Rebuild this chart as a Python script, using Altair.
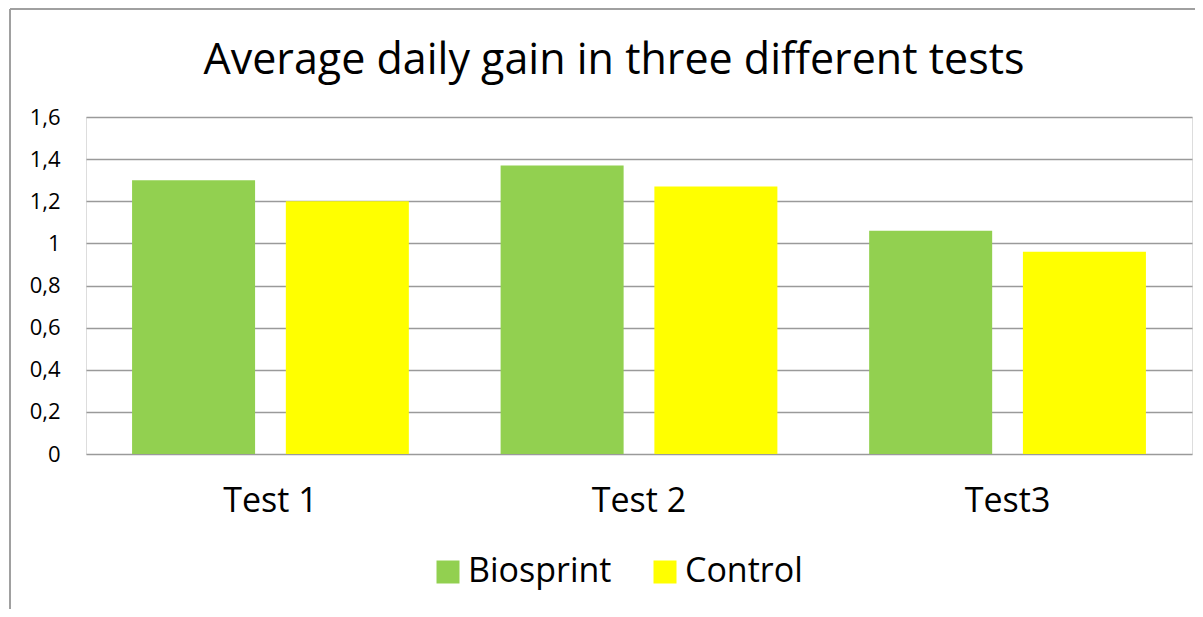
import altair as alt
import pandas as pd

tests = ["Test 1", "Test 2", "Test3"]
series = ["Biosprint", "Control"]
biosprint = [1.30, 1.37, 1.06]
control = [1.20, 1.27, 0.96]
colors = ["#92D050", "#FFFF00"]

rows = []
for t, b, c in zip(tests, biosprint, control):
    rows.append({"test": t, "series": "Biosprint", "value": b})
    rows.append({"test": t, "series": "Control", "value": c})
df = pd.DataFrame(rows)

FONT = "Open Sans"

bars = alt.Chart(df).mark_bar().encode(
    x=alt.X("test:N", sort=tests, title=None,
            scale=alt.Scale(paddingInner=0.249, paddingOuter=0.125),
            axis=alt.Axis(labelAngle=0, labelFontSize=34, labelPadding=30,
                          labelColor="#000000", labelFont=FONT,
                          domain=False, ticks=False)),
    xOffset=alt.XOffset("series:N", sort=series,
                        scale=alt.Scale(paddingInner=0.2, paddingOuter=0)),
    y=alt.Y("value:Q", title=None,
            scale=alt.Scale(domain=[0, 1.6], nice=False),
            axis=alt.Axis(values=[0, 0.2, 0.4, 0.6, 0.8, 1.0, 1.2, 1.4, 1.6],
                          labelExpr="replace(toString(round(datum.value*10)/10), '.', ',')",
                          labelFontSize=22, labelPadding=26, labelColor="#000000",
                          labelFont=FONT, domain=False, ticks=False,
                          grid=True, gridColor="#9a9a9a", gridWidth=1.5)),
    color=alt.Color("series:N", sort=series,
                    scale=alt.Scale(domain=series, range=colors),
                    legend=alt.Legend(title=None, orient="none", direction="horizontal",
                                      legendX=345, legendY=438,
                                      symbolType="square", symbolSize=529,
                                      symbolStrokeWidth=0, symbolOpacity=1,
                                      labelFontSize=34, labelFont=FONT,
                                      labelColor="#000000", labelOffset=3,
                                      columnPadding=36)),
)

frame_v = alt.Chart(df).mark_rule(color="#a0a0a0", strokeWidth=1.5).encode(
    x=alt.value(-76), y=alt.value(-108), y2=alt.value(492))
frame_h = alt.Chart(df).mark_rule(color="#a0a0a0", strokeWidth=1.5).encode(
    x=alt.value(-76), x2=alt.value(1109), y=alt.value(-108))

chart = alt.layer(bars, frame_v, frame_h).properties(
    width=1106, height=337,
    autosize=alt.AutoSizeParams(type="none"),
    padding={"left": 78, "top": 109, "right": 3, "bottom": 155},
    title=alt.TitleParams("Average daily gain in three different tests",
                          fontSize=43, font=FONT, fontWeight="normal",
                          color="#000000", anchor="middle", frame="group",
                          dx=-25, offset=-75),
).configure_view(stroke=None).configure(background="white")

chart.save("out.html", embed_options={"renderer": "svg", "actions": False})
